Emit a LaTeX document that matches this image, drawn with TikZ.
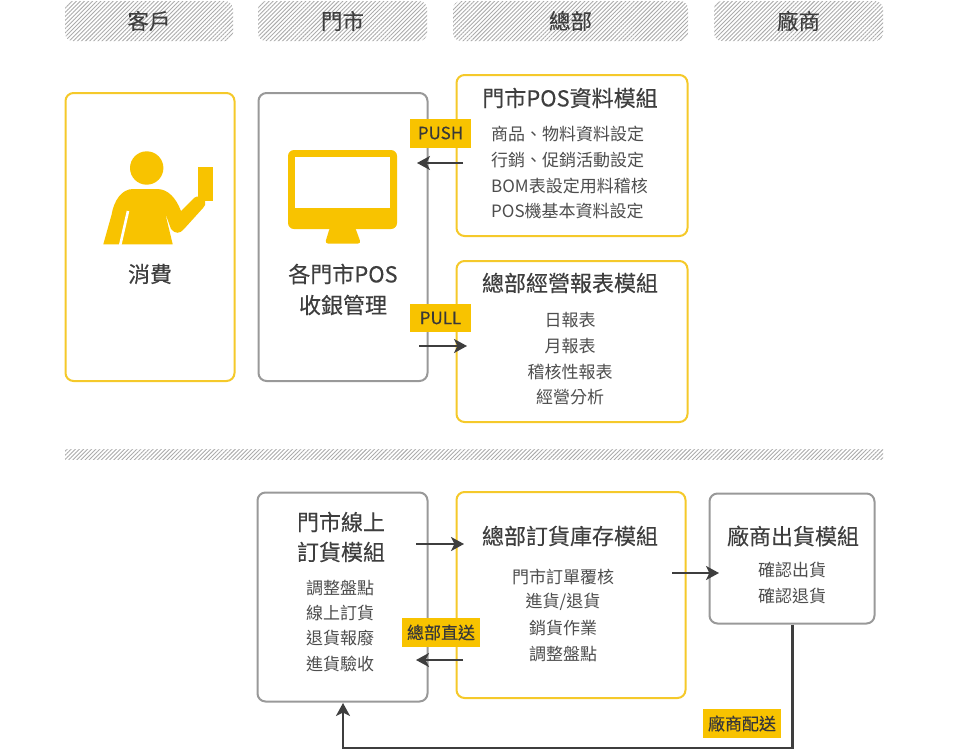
\documentclass[tikz,border=0pt]{standalone}
\usepackage{fontspec}
\setmainfont{Noto Sans CJK TC}
\newfontfamily\heavyfont[FakeBold=0.25]{Noto Sans CJK TC}
\usetikzlibrary{arrows.meta,patterns.meta,calc}
\definecolor{ylw}{HTML}{F8C300}
\definecolor{ybord}{HTML}{F5C92A}
\definecolor{gbord}{HTML}{999999}
\definecolor{txt}{HTML}{4D4D4D}
\definecolor{dark}{HTML}{3E3E3E}
\tikzset{
  x=1pt,y=-1pt,
  hatchbox/.style={rounded corners=8pt,inner sep=0pt,pattern={Lines[angle=45,distance=2.9pt,line width=0.9pt]},pattern color=black!33,text=dark,font=\heavyfont\fontsize{21.5}{21.5}\selectfont},
  ybox/.style={draw=ybord,line width=2pt,rounded corners=8pt,inner sep=0pt,fill=white},
  gbox/.style={draw=gbord,line width=2pt,rounded corners=8pt,inner sep=0pt,fill=white},
  tag/.style={fill=ylw,inner sep=0pt,text=black!78,font=\heavyfont\fontsize{17}{17}\selectfont},
  title/.style={inner sep=0pt,text=dark,font=\heavyfont\fontsize{22}{22}\selectfont},
  item/.style={inner sep=0pt,text=txt,font=\fontsize{17}{17}\selectfont},
  flow/.style={draw=dark,line width=2.4pt,-{Stealth[length=13pt,width=14pt,inset=3.5pt]}},
  icon/.style={fill=ylw,draw=none}
}
\begin{document}
\begin{tikzpicture}
\useasboundingbox (0,0) rectangle (953,750);
% headers
\node[hatchbox,minimum width=168pt,minimum height=40pt] (h1) at (149,21) {客戶};
\node[hatchbox,minimum width=169pt,minimum height=40pt] (h2) at (342.5,21) {門市};
\node[hatchbox,minimum width=235pt,minimum height=40pt] (h3) at (570.5,21) {總部};
\node[hatchbox,minimum width=169pt,minimum height=40pt] (h4) at (798.5,21) {廠商};
% divider
\node[hatchbox,rounded corners=0pt,minimum width=818pt,minimum height=10pt] (div) at (474,454.5) {};
% boxes
\node[ybox,minimum width=169pt,minimum height=288pt] (cust) at (150,237) {};
\node[gbox,minimum width=169pt,minimum height=288pt] (store) at (343,237) {};
\node[ybox,minimum width=231pt,minimum height=161pt] (pos) at (572,155.5) {};
\node[ybox,minimum width=231pt,minimum height=161pt] (rep) at (572,341.5) {};
\node[gbox,minimum width=170pt,minimum height=209pt] (ostore) at (342.5,597) {};
\node[ybox,minimum width=229pt,minimum height=206pt] (hq) at (571,595) {};
\node[gbox,minimum width=165pt,minimum height=130pt] (vend) at (792,558.5) {};
% person icon
\fill[icon] (146.7,168) circle (16.7);
\fill[icon] (198,167) rectangle (213,201);
\path[icon] (103.3,244.3) -- (111.5,215) .. controls (114,200) and (122,189) .. (133,189)
  -- (157,189) .. controls (168,189) and (176,198) .. (181,211)
  -- (194,198) .. controls (197,195) and (202,197) .. (205,201) .. controls (206,204) and (205,206) .. (203,208)
  -- (184,229) .. controls (180,234) and (175,234) .. (171,229) -- (165,212.3) -- (172.7,244.3) -- cycle;
\draw[white,line width=2.6pt] (128,211) -- (120,246);
% monitor icon
\fill[icon,rounded corners=6pt] (288,150) rectangle (397,229);
\fill[white] (295,157) rectangle (390,208);
\fill[icon,rounded corners=3pt] (330,227) -- (355,227) -- (361,243.5) -- (325,243.5) -- cycle;
% customer/store text
\node[title] (t1) at (150,274) {消費};
\node[title] (t2) at (343,274) {各門市POS};
\node[title] (t3) at (343,305) {收銀管理};
% POS box text
\node[title] (t4) at (570,98) {門市POS資料模組};
\node[item,anchor=west] (p1) at (491,134) {商品、物料資料設定};
\node[item,anchor=west] (p2) at (491,160) {行銷、促銷活動設定};
\node[item,anchor=west] (p3) at (491,186) {BOM表設定用料稽核};
\node[item,anchor=west] (p4) at (491,211.5) {POS機基本資料設定};
% report text
\node[title] (t5) at (570,283) {總部經營報表模組};
\node[item] (r1) at (570,320) {日報表};
\node[item] (r2) at (570,346) {月報表};
\node[item] (r3) at (570,372) {稽核性報表};
\node[item] (r4) at (570,397) {經營分析};
% lower text
\node[title] (t6) at (341,522) {門市線上};
\node[title] (t7) at (341,552) {訂貨模組};
\node[item] (s1) at (340,588) {調整盤點};
\node[item] (s2) at (340,613) {線上訂貨};
\node[item] (s3) at (340,638) {退貨報廢};
\node[item] (s4) at (340,664) {進貨驗收};
\node[title] (t8) at (570,536) {總部訂貨庫存模組};
\node[item] (q1) at (563,577) {門市訂單覆核};
\node[item] (q2) at (563,602) {進貨/退貨};
\node[item] (q3) at (563,628) {銷貨作業};
\node[item] (q4) at (563,654) {調整盤點};
\node[title] (t9) at (793,536) {廠商出貨模組};
\node[item] (v1) at (792,570) {確認出貨};
\node[item] (v2) at (792,596) {確認退貨};
% tags
\node[tag,minimum width=61pt,minimum height=29pt] (push) at (440.5,133) {PUSH};
\node[tag,minimum width=61pt,minimum height=28pt] (pull) at (440.5,318) {PULL};
\node[tag,minimum width=78pt,minimum height=29pt] (direct) at (441,632.5) {總部直送};
\node[tag,minimum width=78pt,minimum height=29pt] (deliv) at (742,723.5) {廠商配送};
% connector ends
\coordinate (a1) at (463,163); \coordinate (a2) at (417,163);
\coordinate (b1) at (419,346); \coordinate (b2) at (467,346);
\coordinate (c1) at (416,544); \coordinate (c2) at (464,544);
\coordinate (d1) at (463,660); \coordinate (d2) at (416,660);
\coordinate (e1) at (672,573); \coordinate (e2) at (719,573);
\draw[flow] (a1) -- (a2);
\draw[flow] (b1) -- (b2);
\draw[flow] (c1) -- (c2);
\draw[flow] (d1) -- (d2);
\draw[flow] (e1) -- (e2);
\draw[flow] (vend.south) ++(0.5,0) |- (343,748) -- (343,703);
\end{tikzpicture}
\end{document}
